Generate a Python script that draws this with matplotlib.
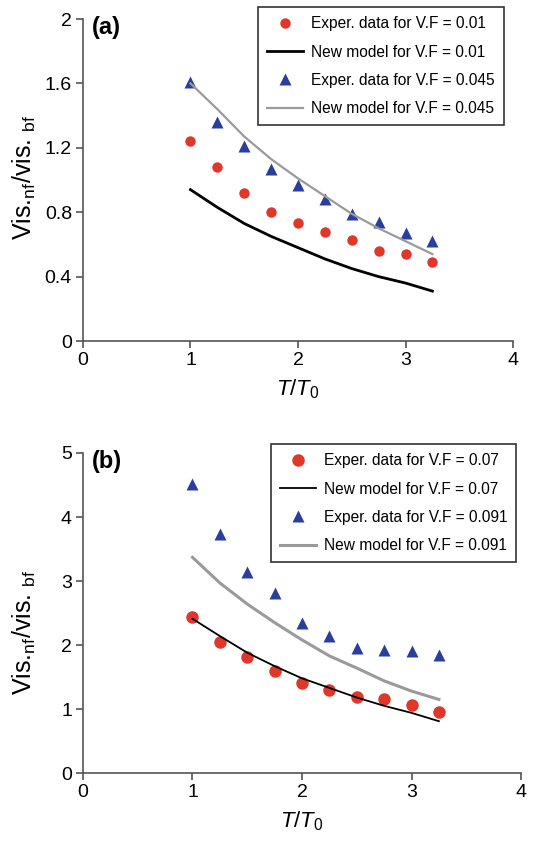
import matplotlib
matplotlib.use("Agg")
import matplotlib.pyplot as plt

plt.rcParams['font.family'] = ['Liberation Sans', 'DejaVu Sans']
plt.rcParams['mathtext.fontset'] = 'custom'
plt.rcParams['mathtext.rm'] = 'Liberation Sans'
plt.rcParams['mathtext.it'] = 'Liberation Sans:italic'

# T/T0 values, shared by both panels
t_ratio = [1, 1.25, 1.5, 1.75, 2, 2.25, 2.5, 2.75, 3, 3.25]

# panel (a)
exp_001 = [1.24, 1.08, 0.92, 0.80, 0.73, 0.68, 0.63, 0.56, 0.54, 0.49]
model_001 = [0.94, 0.83, 0.73, 0.65, 0.58, 0.51, 0.45, 0.40, 0.36, 0.31]
exp_0045 = [1.61, 1.36, 1.21, 1.07, 0.97, 0.88, 0.79, 0.74, 0.67, 0.62]
model_0045 = [1.60, 1.44, 1.27, 1.13, 1.01, 0.90, 0.79, 0.70, 0.62, 0.54]

# panel (b)
exp_007 = [2.43, 2.04, 1.81, 1.60, 1.41, 1.30, 1.19, 1.15, 1.06, 0.95]
model_007 = [2.41, 2.14, 1.88, 1.67, 1.48, 1.33, 1.18, 1.05, 0.94, 0.81]
exp_0091 = [4.51, 3.74, 3.14, 2.81, 2.35, 2.14, 1.96, 1.93, 1.90, 1.84]
model_0091 = [3.37, 2.97, 2.64, 2.35, 2.08, 1.83, 1.64, 1.44, 1.28, 1.15]

RED = '#e1372b'
BLUE = '#2a3f9d'
GRAY = '#9a9a9a'

fig = plt.figure(figsize=(5.33, 8.42), dpi=100)
ax_a = fig.add_axes([0.1557, 0.595, 0.8068, 0.3824])
ax_b = fig.add_axes([0.1557, 0.0819, 0.8218, 0.3801])


def style_axes(ax, ymax, yticks, ylabels, label_x, label_y):
    for s in ['top', 'right']:
        ax.spines[s].set_visible(False)
    for s in ['left', 'bottom']:
        ax.spines[s].set_color('#555555')
        ax.spines[s].set_linewidth(1.2)
    ax.set_xlim(0, 4)
    ax.set_ylim(0, ymax)
    ax.set_xticks([0, 1, 2, 3, 4])
    ax.set_yticks(yticks)
    ax.set_yticklabels(ylabels)
    ax.tick_params(direction='out', length=5, width=1.2, color='#555555',
                   labelsize=14, pad=3)
    ax.set_ylabel(r'Vis.$_{\mathrm{nf}}$/vis. $_{\mathrm{bf}}$', fontsize=18)
    ax.yaxis.set_label_coords(label_x, label_y)
    ax.set_xlabel(r'$T/T_{\mathrm{0}}$', fontsize=16, labelpad=6)


def add_legend(ax, anchor):
    leg = ax.legend(loc='upper left', bbox_to_anchor=anchor, bbox_transform=fig.transFigure,
                    borderaxespad=0, fontsize=11.2, fancybox=False, frameon=True,
                    edgecolor='black', handlelength=2.3, labelspacing=0.85,
                    borderpad=0.6, handletextpad=0.5)
    leg.get_frame().set_linewidth(1.2)
    return leg


# (a)
ax_a.plot(t_ratio, exp_001, 'o', color=RED, ms=7.5, mec='none', label='Exper. data for V.F = 0.01')
ax_a.plot(t_ratio, model_001, '-', color='black', lw=2, label='New model for V.F = 0.01')
ax_a.plot(t_ratio, exp_0045, '^', color=BLUE, ms=8.5, mec='none', label='Exper. data for V.F = 0.045')
ax_a.plot(t_ratio, model_0045, '-', color=GRAY, lw=1.6, label='New model for V.F = 0.045')
style_axes(ax_a, 2, [0, 0.4, 0.8, 1.2, 1.6, 2], ['0', '0.4', '0.8', '1.2', '1.6', '2'],
           -0.105, 0.51)
ax_a.text(0.02, 1.01, '(a)', transform=ax_a.transAxes, fontsize=17, fontweight='bold',
          va='top', ha='left')
add_legend(ax_a, (0.484, 0.9917))

# (b)
ax_b.plot(t_ratio, exp_007, 'o', color=RED, ms=9, mec='none', label='Exper. data for V.F = 0.07')
ax_b.plot(t_ratio, model_007, '-', color='black', lw=1.3, label='New model for V.F = 0.07')
ax_b.plot(t_ratio, exp_0091, '^', color=BLUE, ms=9, mec='none', label='Exper. data for V.F = 0.091')
ax_b.plot(t_ratio, model_0091, '-', color=GRAY, lw=2.2, label='New model for V.F = 0.091')
style_axes(ax_b, 5, [0, 1, 2, 3, 4, 5], ['0', '1', '2', '3', '4', '5'], -0.103, 0.44)
ax_b.text(0.02, 1.01, '(b)', transform=ax_b.transAxes, fontsize=17, fontweight='bold',
          va='top', ha='left')
add_legend(ax_b, (0.508, 0.4727))

fig.savefig('out.png', dpi=100)
